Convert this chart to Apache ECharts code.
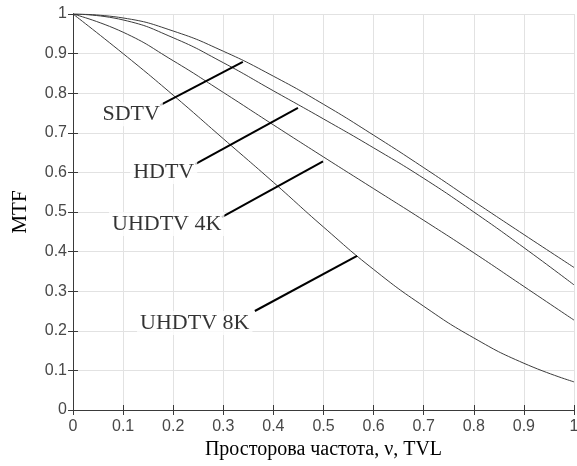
<!DOCTYPE html>
<html>
<head>
<meta charset="utf-8">
<script src="https://cdn.jsdelivr.net/npm/echarts@6/dist/echarts.min.js"></script>
<style>
html,body{margin:0;padding:0;background:#fff;}
#chart{width:577px;height:466px;}
</style>
</head>
<body>
<div id="chart"></div>
<script>
// Spatial frequency (x)
const freq = [0, 0.1, 0.2, 0.3, 0.4, 0.5, 0.6, 0.7, 0.8, 0.9, 1.0];
// MTF values
const sdtv   = [1, 0.990, 0.957, 0.906, 0.843, 0.772, 0.694, 0.612, 0.527, 0.443, 0.360];
const hdtv   = [1, 0.985, 0.940, 0.877, 0.806, 0.735, 0.662, 0.585, 0.500, 0.410, 0.316];
const uhd4k  = [1, 0.954, 0.882, 0.802, 0.720, 0.639, 0.559, 0.479, 0.397, 0.312, 0.227];
const uhd8k  = [1, 0.900, 0.795, 0.685, 0.575, 0.462, 0.355, 0.262, 0.182, 0.118, 0.071];
// Annotation labels: name, label anchor (x,y), leader line start, leader line end
const labelNames  = ['SDTV', 'HDTV', 'UHDTV 4K', 'UHDTV 8K'];
const labelPos    = [[0.116, 0.747], [0.181, 0.601], [0.187, 0.470], [0.243, 0.220]];
const leaderStart = [[0.174, 0.770], [0.244, 0.621], [0.297, 0.487], [0.363, 0.250]];
const leaderEnd   = [[0.339, 0.879], [0.449, 0.763], [0.499, 0.628], [0.567, 0.389]];
const xTicks = ['0','0.1','0.2','0.3','0.4','0.5','0.6','0.7','0.8','0.9','1'];
const yTicks = ['0','0.1','0.2','0.3','0.4','0.5','0.6','0.7','0.8','0.9','1'];

const chart = echarts.init(document.getElementById('chart'));
const axisCol = '#3a3a3a';
const tickFont = {color:'#484848', fontSize:16, fontFamily:'Liberation Sans, Arial, sans-serif'};
const serif = 'Liberation Serif, Times New Roman, serif';

const curve = (d) => ({
  type:'line', data: freq.map((x,i)=>[x,d[i]]), smooth:true, symbol:'none',
  lineStyle:{color:'#3c3c3c', width:1}, z:3, silent:true
});

const series = [curve(sdtv), curve(hdtv), curve(uhd4k), curve(uhd8k)];
labelNames.forEach((n,i)=>{
  series.push({type:'line', data:[leaderStart[i], leaderEnd[i]], symbol:'none',
    lineStyle:{color:'#000', width:2}, z:4, silent:true});
});
series.push({
  type:'scatter', symbolSize:0, z:5, silent:true,
  data: labelNames.map((n,i)=>({value:labelPos[i], name:n})),
  label:{show:true, position:'inside', formatter:p=>p.name, color:'#000',
    fontFamily:serif, fontSize:22, backgroundColor:'#fff', padding:[1,3]}
});

chart.setOption({
  animation:false,
  backgroundColor:'#fff',
  grid:{left:73, right:3, top:14, bottom:56, containLabel:false, outerBoundsMode:'none'},
  xAxis:[{
    type:'value', min:0, max:1, interval:0.1,
    name:'Просторова частота, ν, TVL', nameLocation:'middle', nameGap:28,
    nameTextStyle:{fontFamily:serif, fontSize:20, color:'#000'},
    axisLine:{show:true, lineStyle:{color:axisCol, width:1}},
    axisTick:{show:true, inside:true, length:5, lineStyle:{color:axisCol}},
    axisLabel:Object.assign({margin:9, formatter:(v)=>xTicks[Math.round(v*10)]}, tickFont),
    splitLine:{show:true, lineStyle:{color:'#e2e2e2', width:1}}
  },{
    type:'value', min:0, max:1, interval:0.1, position:'top',
    axisLine:{show:true, lineStyle:{color:axisCol, width:1}},
    axisTick:{show:true, inside:true, length:5, lineStyle:{color:axisCol}},
    axisLabel:{show:false}, splitLine:{show:false}
  }],
  yAxis:[{
    type:'value', min:0, max:1, interval:0.1,
    name:'MTF', nameLocation:'middle', nameGap:42, nameRotate:90,
    nameTextStyle:{fontFamily:serif, fontSize:21, color:'#000'},
    axisLine:{show:true, lineStyle:{color:axisCol, width:1}},
    axisTick:{show:true, inside:true, length:5, lineStyle:{color:axisCol}},
    axisLabel:Object.assign({margin:6, formatter:(v)=>yTicks[Math.round(v*10)]}, tickFont),
    splitLine:{show:true, lineStyle:{color:'#e2e2e2', width:1}}
  },{
    type:'value', min:0, max:1, interval:0.1, position:'right',
    axisLine:{show:true, lineStyle:{color:axisCol, width:1}},
    axisTick:{show:true, inside:true, length:5, lineStyle:{color:axisCol}},
    axisLabel:{show:false}, splitLine:{show:false}
  }],
  series: series
});
</script>
</body>
</html>
